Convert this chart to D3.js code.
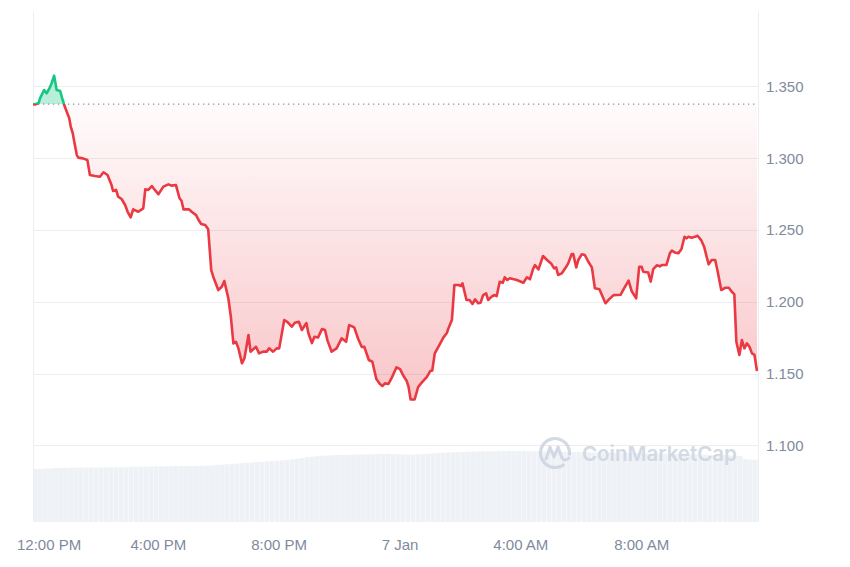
<!DOCTYPE html>
<html><head><meta charset="utf-8">
<script src="https://cdn.jsdelivr.net/npm/d3@7"></script>
<style>html,body{margin:0;padding:0;background:#fff;} svg{display:block;}</style>
</head><body>
<svg id="chart" width="850" height="567"></svg>
<script>
// ---------------- DATA ----------------
const startTime = "2025-01-06T11:51:00";
// minutes after startTime for each price sample
const minutes = [0,4,11,14,22,27,32,37,42,47,54,58,62,67,72,75,79,82,87,90,99,108,113,123,133,140,148,156,159,165,169,176,183,188,194,199,209,219,223,229,236,242,249,259,269,275,284,291,295,299,310,315,324,328,334,342,348,354,358,368,375,380,388,393,398,403,408,415,420,428,432,443,449,457,464,469,477,484,489,499,505,514,520,528,534,543,547,554,559,566,574,580,585,593,603,613,622,628,638,646,653,658,667,674,682,689,694,699,706,712,722,729,736,742,746,750,758,765,772,782,789,793,798,807,815,822,825,832,837,845,850,853,861,867,873,878,884,889,894,900,904,911,916,921,927,933,937,942,947,961,974,981,987,993,997,1004,1013,1021,1030,1035,1039,1043,1050,1059,1063,1070,1073,1079,1083,1090,1096,1103,1110,1116,1125,1130,1137,1144,1153,1167,1174,1183,1189,1198,1204,1209,1212,1222,1227,1232,1239,1245,1249,1258,1265,1269,1275,1282,1288,1294,1298,1302,1308,1315,1320,1327,1333,1338,1342,1348,1355,1360,1367,1375,1382,1388,1393,1397,1403,1408,1413,1418,1423,1428,1433,1438];
const prices = [1.3377,1.3374,1.3384,1.3417,1.3475,1.3452,1.3482,1.3522,1.3575,1.3475,1.3468,1.3417,1.3370,1.3324,1.3278,1.3219,1.3173,1.3115,1.3022,1.3004,1.2999,1.2987,1.2883,1.2876,1.2871,1.2902,1.2883,1.2813,1.2772,1.2779,1.2732,1.2716,1.2674,1.2627,1.2588,1.2644,1.2627,1.2651,1.2783,1.2779,1.2806,1.2779,1.2749,1.2802,1.2818,1.2809,1.2813,1.2721,1.2704,1.2644,1.2644,1.2627,1.2604,1.2575,1.2542,1.2535,1.2505,1.2221,1.2175,1.2082,1.2105,1.2145,1.2024,1.1896,1.1711,1.1722,1.1676,1.1572,1.1607,1.1769,1.1653,1.1687,1.1641,1.1653,1.1653,1.1676,1.1653,1.1676,1.1676,1.1873,1.1861,1.1827,1.1854,1.1861,1.1804,1.1852,1.1781,1.1713,1.1757,1.1751,1.1811,1.1804,1.1730,1.1653,1.1676,1.1746,1.1722,1.1838,1.1822,1.1741,1.1685,1.1687,1.1595,1.1583,1.1462,1.1428,1.1414,1.1432,1.1428,1.1467,1.1544,1.1532,1.1483,1.1451,1.1407,1.1320,1.1320,1.1407,1.1437,1.1476,1.1518,1.1522,1.1641,1.1699,1.1751,1.1783,1.1815,1.1873,1.2117,1.2117,1.2110,1.2129,1.2013,1.2013,1.1985,1.2017,1.1990,1.1994,1.2047,1.2059,1.2013,1.2036,1.2047,1.2040,1.2140,1.2133,1.2171,1.2152,1.2164,1.2152,1.2133,1.2171,1.2157,1.2226,1.2256,1.2226,1.2319,1.2291,1.2263,1.2233,1.2240,1.2187,1.2198,1.2244,1.2268,1.2333,1.2333,1.2240,1.2291,1.2331,1.2326,1.2279,1.2240,1.2094,1.2087,1.2047,1.1990,1.2017,1.2047,1.2049,1.2094,1.2148,1.2075,1.2024,1.2244,1.2244,1.2210,1.2204,1.2141,1.2228,1.2254,1.2247,1.2256,1.2256,1.2338,1.2357,1.2343,1.2338,1.2368,1.2453,1.2442,1.2453,1.2446,1.2453,1.2460,1.2430,1.2384,1.2314,1.2261,1.2291,1.2291,1.2210,1.2082,1.2098,1.2098,1.2070,1.2052,1.1722,1.1630,1.1734,1.1676,1.1711,1.1687,1.1641,1.1630,1.1518];
// 24h volume (millions USD), one value per 10-minute bar
const volumeStepMinutes = 10;
const volumes = [53.0,53.0,53.5,53.5,54.0,
 54.2,54.2,54.3,54.3,54.4,54.4,54.5,54.5,54.5,54.6,54.6,54.7,54.7,54.8,
 55.2,55.3,55.3,55.4,55.5,55.5,55.6,55.7,55.7,55.8,55.9,56.0,56.0,56.1,56.2,56.3,56.5,
 57.0,57.3,57.7,58.0,58.4,58.8,
 59.2,59.5,59.9,60.2,60.5,60.8,
 61.2,61.6,62.1,62.6,63.2,64.0,
 64.8,65.4,65.8,66.2,66.5,66.8,
 67.0,67.1,67.2,67.3,67.4,67.5,67.6,67.8,67.9,68.0,
 68.1,67.9,67.8,67.6,67.5,67.4,67.6,67.8,68.2,68.6,
 69.0,69.3,69.5,69.7,69.9,70.1,70.3,70.4,70.5,70.6,
 70.7,70.8,70.8,70.9,70.9,71.0,70.9,70.9,70.8,70.8,70.7,70.6,70.5,70.4,70.3,70.2,70.1,70.0,69.9,69.8,
 69.7,69.6,69.5,69.4,69.3,69.2,69.1,69.0,68.9,68.8,68.7,68.6,68.5,68.4,68.3,68.2,68.1,68.0,67.9,67.8,
 67.7,67.6,67.5,67.4,67.3,67.1,66.9,66.7,66.5,66.3,66.0,
 63.0,62.5,62.2];
const yTickValues = [1.10,1.15,1.20,1.25,1.30,1.35];
const xTickTimes = ["2025-01-06T12:00:00","2025-01-06T16:00:00","2025-01-06T20:00:00","2025-01-07T00:00:00","2025-01-07T04:00:00","2025-01-07T08:00:00"];
const xTickLabels = ["12:00 PM","4:00 PM","8:00 PM","7 Jan","4:00 AM","8:00 AM"];
const watermarkText = "CoinMarketCap";

// ---------------- CHART ----------------
const svg = d3.select("#chart");
const L = 33, R = 758, T = 12, B = 522;
const t0 = new Date(startTime);
const t1 = new Date(t0.getTime() + 24*3600*1000);
const data = minutes.map((m,i)=>({t:new Date(t0.getTime()+m*60000), p:prices[i]}));

const x = d3.scaleTime().domain([t0,t1]).range([L,R]);
const y = d3.scaleLinear().domain([1.0467,1.4018]).range([B,T]);
const yVol = d3.scaleLinear().domain([0,100]).range([B,B-100]);

const baseP = prices[0];
const baseY = y(baseP);
const RED = "#ea3943", GREEN = "#16c784";

const defs = svg.append("defs");
const grad = defs.append("linearGradient").attr("id","redGrad")
  .attr("gradientUnits","userSpaceOnUse").attr("x1",0).attr("x2",0)
  .attr("y1",baseY).attr("y2",y(d3.min(prices)));
grad.append("stop").attr("offset","0%").attr("stop-color",RED).attr("stop-opacity",0.02);
grad.append("stop").attr("offset","100%").attr("stop-color",RED).attr("stop-opacity",0.29);
defs.append("clipPath").attr("id","above").append("rect")
  .attr("x",L).attr("y",T).attr("width",R-L).attr("height",baseY-T);
defs.append("clipPath").attr("id","below").append("rect")
  .attr("x",L).attr("y",baseY).attr("width",R-L).attr("height",B-baseY);

// volume bars
const stepPx = x(new Date(t0.getTime()+volumeStepMinutes*60000)) - x(t0);
svg.append("g").selectAll("rect").data(volumes).join("rect")
  .attr("x",(d,i)=>x(new Date(t0.getTime()+i*volumeStepMinutes*60000)))
  .attr("y",d=>yVol(d))
  .attr("width",stepPx-0.3)
  .attr("height",d=>B-yVol(d))
  .attr("fill","#eef1f5");

// gridlines
svg.append("g").selectAll("line").data(yTickValues).join("line")
  .attr("x1",L).attr("x2",R).attr("y1",d=>Math.round(y(d))+0.5).attr("y2",d=>Math.round(y(d))+0.5)
  .attr("stroke","#eceef2").attr("stroke-width",1);
// vertical frame lines
svg.append("line").attr("x1",L+0.5).attr("x2",L+0.5).attr("y1",T).attr("y2",B).attr("stroke","#eceef2");
svg.append("line").attr("x1",R+0.5).attr("x2",R+0.5).attr("y1",T).attr("y2",B).attr("stroke","#eceef2");

// watermark
const wm = svg.append("g").attr("opacity",0.9);
const cx = 555, cy = 453, r = 14.5;
const arc = d3.arc().innerRadius(r-1.6).outerRadius(r+1.6).startAngle(2.45).endAngle(2*Math.PI+1.75);
wm.append("path").attr("d",arc()).attr("transform",`translate(${cx},${cy})`).attr("fill","#cfd6e2");
wm.append("path").attr("d",`M${cx-9},${cy+6} L${cx-5},${cy-6} L${cx-1},${cy+4} L${cx+3},${cy-6} L${cx+7},${cy+5} Q${cx+10},${cy+9} ${cx+14},${cy+5}`)
  .attr("fill","none").attr("stroke","#cfd6e2").attr("stroke-width",3).attr("stroke-linejoin","round").attr("stroke-linecap","round");
wm.append("text").attr("x",582).attr("y",461).text(watermarkText)
  .attr("font-family","Inter, 'Noto Sans', sans-serif").attr("font-weight",600).attr("font-size",20.5)
  .attr("fill","#cfd6e2");

// areas
const area = d3.area().x(d=>x(d.t)).y0(baseY).y1(d=>y(d.p));
svg.append("path").datum(data).attr("d",area).attr("fill","url(#redGrad)").attr("clip-path","url(#below)");
svg.append("path").datum(data).attr("d",area).attr("fill",GREEN).attr("fill-opacity",0.3).attr("clip-path","url(#above)");

// baseline dotted
svg.append("line").attr("x1",L).attr("x2",R).attr("y1",baseY).attr("y2",baseY)
  .attr("stroke","#8a92a3").attr("stroke-width",1.3).attr("stroke-dasharray","1.3,3.7");

// lines
const line = d3.line().x(d=>x(d.t)).y(d=>y(d.p));
svg.append("path").datum(data).attr("d",line).attr("fill","none").attr("stroke",RED)
  .attr("stroke-width",2.6).attr("stroke-linejoin","round").attr("clip-path","url(#below)");
svg.append("path").datum(data).attr("d",line).attr("fill","none").attr("stroke",GREEN)
  .attr("stroke-width",2.6).attr("stroke-linejoin","round").attr("clip-path","url(#above)");

// y labels
const fontFam = "'Liberation Sans', Arial, Helvetica, sans-serif";
svg.append("g").selectAll("text").data(yTickValues).join("text")
  .attr("x",766).attr("y",d=>y(d)).attr("dy","0.36em")
  .attr("font-family",fontFam).attr("font-size",15).attr("fill","#808a9d")
  .text(d=>d3.format(".3f")(d));

// x labels
const xl = svg.append("g").selectAll("text").data(xTickTimes).join("text")
  .attr("x",d=>x(new Date(d))).attr("y",550).attr("text-anchor","middle")
  .attr("font-family",fontFam).attr("font-size",15).attr("fill","#808a9d")
  .text((d,i)=>xTickLabels[i]);
xl.each(function(){
  const bb = this.getBBox();
  if (bb.x < 17) { d3.select(this).attr("x", 17 + bb.width/2); }
});
</script>
</body></html>
